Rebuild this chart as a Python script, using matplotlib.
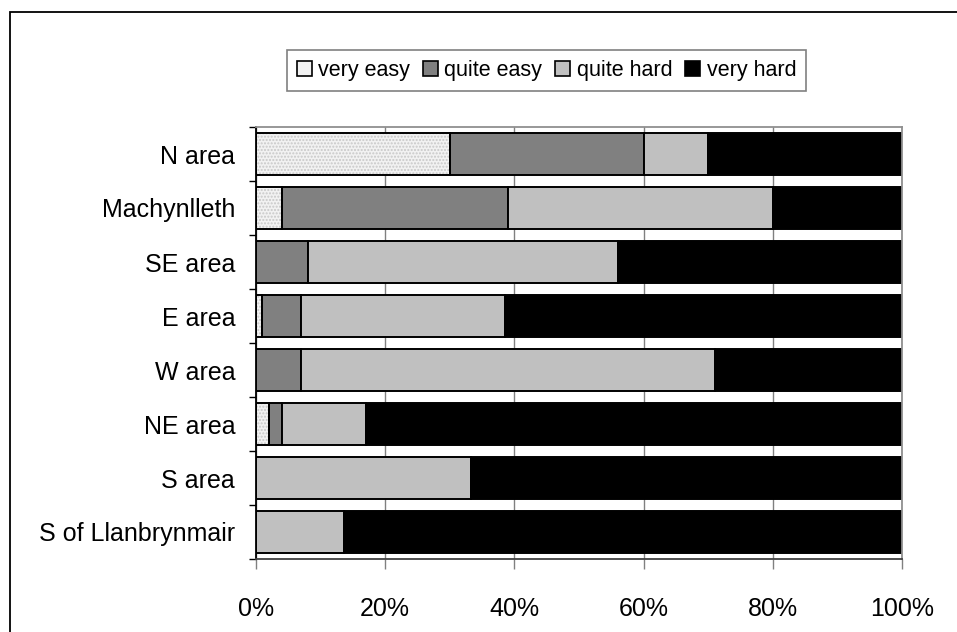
import numpy as np
import matplotlib.pyplot as plt
from matplotlib.patches import Rectangle

plt.rcParams['font.family'] = ['Liberation Sans', 'DejaVu Sans']

areas = ['N area', 'Machynlleth', 'SE area', 'E area', 'W area', 'NE area', 'S area', 'S of Llanbrynmair']
very_easy = [30, 4, 0, 1, 0, 2, 0, 0]
quite_easy = [30, 35, 8, 6, 7, 2, 0, 0]
quite_hard = [10, 41, 48, 31.5, 64, 13, 33.3, 13.6]
very_hard = [30, 20, 44, 61.5, 29, 83, 66.7, 86.4]
series_names = ['very easy', 'quite easy', 'quite hard', 'very hard']
x_ticks = [0, 20, 40, 60, 80, 100]

W, H = 957, 632
fig = plt.figure(figsize=(W / 100, H / 100), dpi=100)
# outer frame, runs off right and bottom edge
fig.patches.append(Rectangle((10 / W, -0.1), 1.2, 1.1 - 12 / H, transform=fig.transFigure,
                             fill=False, edgecolor='black', lw=1.3))

ax = fig.add_axes([256 / W, 1 - 559 / H, 646 / W, 432 / H])
y = np.arange(len(areas))
bh = 0.78

left = np.zeros(len(areas))
vals = [very_easy, quite_easy, quite_hard, very_hard]
colors = ['#f2f2f2', '#808080', '#c0c0c0', '#000000']
for i, v in enumerate(vals):
    v = np.array(v, dtype=float)
    if i == 0:
        # dotted fill
        ax.barh(y, v, left=left, height=bh, color=colors[i], hatch='.....',
                edgecolor='#c8c8c8', lw=0, zorder=2)
        ax.barh(y, v, left=left, height=bh, fill=False, edgecolor='black', lw=1.4, zorder=3)
    else:
        ax.barh(y, v, left=left, height=bh, color=colors[i], edgecolor='black', lw=1.4, zorder=2)
    left = left + v

ax.set_xlim(0, 100)
ax.set_ylim(len(areas) - 0.5, -0.5)
ax.set_xticks(x_ticks)
ax.set_xticklabels([str(t) + '%' for t in x_ticks], fontsize=18)
ax.set_yticks(y)
ax.set_yticklabels(areas, fontsize=18)
ax.set_yticks(np.arange(len(areas) + 1) - 0.5, minor=True)
ax.tick_params(axis='y', which='major', length=0, pad=15)
ax.tick_params(axis='y', which='minor', length=5, width=1, color='black', direction='out')
ax.tick_params(axis='x', length=7, width=1, color='#808080', pad=20)

ax.xaxis.grid(True, color='#808080', lw=1, zorder=0)
ax.set_axisbelow(True)
for s in ['top', 'right']:
    ax.spines[s].set_color('#909090')
    ax.spines[s].set_linewidth(1.3)
ax.spines['bottom'].set_color('#404040')
ax.spines['bottom'].set_linewidth(1.3)
ax.spines['left'].set_color('black')
ax.spines['left'].set_linewidth(1.3)

handles = []
for i in range(4):
    if i == 0:
        handles.append(Rectangle((0, 0), 1, 1, facecolor='#f2f2f2', edgecolor='black', lw=1.2))
    else:
        handles.append(Rectangle((0, 0), 1, 1, facecolor=colors[i], edgecolor='black', lw=1.2))
leg = fig.legend(handles, series_names, loc='center', ncol=4, fontsize=15.5,
                 bbox_to_anchor=(546.5 / W, 1 - 70.5 / H), bbox_transform=fig.transFigure,
                 frameon=True, fancybox=False, handlelength=0.7, handleheight=0.7,
                 handletextpad=0.3, columnspacing=0.6, borderpad=0.45, borderaxespad=0)
leg.get_frame().set_edgecolor('#606060')
leg.get_frame().set_linewidth(1.2)

fig.savefig('out.png', dpi=100)
